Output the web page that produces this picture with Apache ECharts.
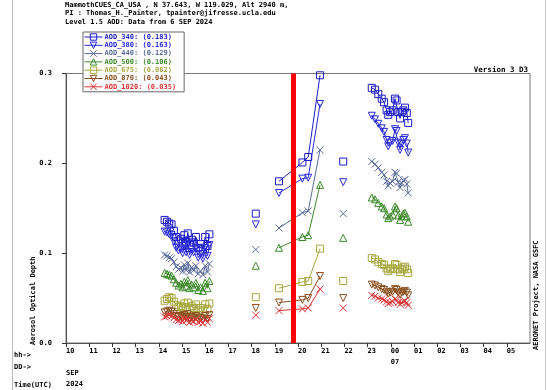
<!DOCTYPE html>
<html><head><meta charset="utf-8">
<script src="https://cdn.jsdelivr.net/npm/echarts@6/dist/echarts.min.js"></script>
<style>html,body{margin:0;padding:0;background:#fff}#c{width:547px;height:390px}</style>
</head><body><div id="c"></div>
<script>
// ---- Data (hours UTC since 6 SEP 2024 00:00) ----
const T_SEG1 = [14.25,14.35,14.45,14.55,14.65,14.75,14.85,14.95,15.03,15.10,15.18,15.25,15.33,15.42,15.50,15.60,15.70,15.80,15.90,16.00,16.10,16.18];
const T_SEG2 = [18.18];
const T_SEG3 = [19.18,20.19,20.44,20.95];
const T_SEG4 = [21.95];
const T_SEG5 = [23.18,23.32,23.46,23.61,23.71,23.82,23.89,23.97,24.08,24.18,24.25,24.32,24.40,24.47,24.54,24.61,24.69,24.75];
const SEGMENTS = [T_SEG1, T_SEG2, T_SEG3, T_SEG4, T_SEG5];

const AOD_340 = [0.137,0.135,0.133,0.132,0.125,0.118,0.114,0.116,0.111,0.120,0.113,0.122,0.109,0.115,0.112,0.118,0.106,0.110,0.104,0.118,0.108,0.121,
  0.144, 0.180,0.201,0.207,0.298, 0.202,
  0.284,0.282,0.277,0.272,0.268,0.259,0.254,0.257,0.259,0.272,0.270,0.257,0.250,0.257,0.259,0.262,0.256,0.245];
const AOD_380 = [0.124,0.123,0.121,0.120,0.113,0.106,0.103,0.105,0.100,0.108,0.101,0.110,0.098,0.104,0.101,0.106,0.095,0.099,0.094,0.106,0.097,0.109,
  0.132, 0.167,0.183,0.184,0.266, 0.179,
  0.253,0.249,0.244,0.239,0.235,0.226,0.219,0.223,0.225,0.238,0.236,0.223,0.215,0.222,0.226,0.228,0.222,0.212];
const AOD_440 = [0.098,0.097,0.095,0.094,0.090,0.085,0.082,0.084,0.080,0.087,0.081,0.089,0.079,0.084,0.081,0.086,0.077,0.080,0.076,0.086,0.079,0.088,
  0.104, 0.128,0.145,0.147,0.215, 0.144,
  0.202,0.199,0.195,0.190,0.187,0.180,0.175,0.178,0.180,0.190,0.189,0.179,0.173,0.178,0.181,0.182,0.177,0.167];
const AOD_500 = [0.078,0.077,0.076,0.075,0.071,0.067,0.064,0.066,0.062,0.068,0.063,0.070,0.061,0.065,0.062,0.067,0.059,0.062,0.058,0.067,0.061,0.069,
  0.086, 0.106,0.118,0.120,0.176, 0.117,
  0.162,0.160,0.156,0.152,0.150,0.143,0.139,0.141,0.143,0.152,0.150,0.142,0.137,0.141,0.144,0.145,0.141,0.135];
const AOD_675 = [0.047,0.049,0.051,0.050,0.046,0.042,0.040,0.041,0.039,0.044,0.040,0.045,0.038,0.041,0.039,0.043,0.037,0.039,0.036,0.043,0.038,0.044,
  0.051, 0.061,0.068,0.069,0.105, 0.069,
  0.0945,0.093,0.090,0.088,0.087,0.083,0.080,0.082,0.083,0.088,0.087,0.082,0.079,0.082,0.084,0.085,0.082,0.078];
const AOD_870 = [0.034,0.035,0.036,0.035,0.032,0.030,0.029,0.030,0.028,0.031,0.029,0.032,0.027,0.029,0.028,0.030,0.027,0.028,0.026,0.030,0.027,0.031,
  0.039, 0.045,0.048,0.050,0.0745, 0.050,
  0.065,0.064,0.062,0.060,0.059,0.057,0.055,0.056,0.057,0.060,0.059,0.056,0.054,0.056,0.057,0.058,0.056,0.053];
const AOD_1020 = [0.029,0.030,0.031,0.030,0.028,0.026,0.025,0.026,0.024,0.027,0.025,0.027,0.023,0.025,0.024,0.026,0.023,0.024,0.022,0.026,0.023,0.027,
  0.031, 0.036,0.038,0.039,0.060, 0.039,
  0.053,0.052,0.050,0.049,0.048,0.046,0.044,0.045,0.046,0.049,0.048,0.045,0.043,0.045,0.046,0.047,0.045,0.042];

const SERIES_NAMES = ['AOD_340: (0.183)','AOD_380: (0.163)','AOD_440: (0.129)','AOD_500: (0.106)','AOD_675: (0.082)','AOD_870: (0.043)','AOD_1020: (0.035)'];
const SERIES_VALUES = [AOD_340, AOD_380, AOD_440, AOD_500, AOD_675, AOD_870, AOD_1020];
const RED_LINE_TIME = 19.8;
const X_MIN = 10, X_MAX = 30, Y_MIN = 0, Y_MAX = 0.3;

// ---- Styles ----
const COLORS = ['#1c1cc8','#2828dc','#5a6a9c','#3c8a2a','#a8a840','#8a4e1e','#dc3434'];
const SYM_X = 'path://M0,0L10,10M10,0L0,10';
const SYM_DOWN = 'path://M0,0L10,0L5,10Z';
const SYMBOLS = ['rect', SYM_DOWN, SYM_X, 'triangle', 'rect', SYM_DOWN, SYM_X];
const FONT = '"DejaVu Sans Mono", monospace';

function build(vals){
  const out = []; let k = 0;
  SEGMENTS.forEach((seg, si) => {
    if (si > 0) out.push(['-','-']);
    seg.forEach(t => out.push([t, vals[k++]]));
  });
  return out;
}
function pad(n){ return (n < 10 ? '0' : '') + n; }

const series = SERIES_NAMES.map((name, i) => ({
  name, type: 'line', data: build(SERIES_VALUES[i]),
  symbol: SYMBOLS[i], symbolSize: 7,
  showAllSymbol: true, connectNulls: false, animation: false,
  lineStyle: { color: COLORS[i], width: 1 },
  itemStyle: { color: 'rgba(0,0,0,0)', borderColor: COLORS[i], borderWidth: 1 },
  emphasis: { disabled: true }, z: 2
}));
series.push({
  type: 'line', data: [], silent: true, animation: false, z: 5,
  markLine: { silent: true, symbol: ['none','none'], label: { show: false }, animation: false,
    lineStyle: { color: '#ff0000', width: 5, type: 'solid' },
    data: [{ xAxis: RED_LINE_TIME }] }
});

const chart = echarts.init(document.getElementById('c'), null, { renderer: 'canvas' });
const txt = (x, y, s, extra) => Object.assign({ type: 'text', x, y, style: Object.assign({ text: s, font: 'bold 7px ' + FONT, fill: '#000' }, extra || {}) });
chart.setOption({
  animation: false,
  backgroundColor: '#fff',
  grid: { left: 66, right: 17, top: 73.5, bottom: 36.5, show: true, borderColor: '#777', borderWidth: 1 },
  legend: {
    orient: 'vertical', left: 83, top: 32, itemGap: 0.3, itemWidth: 18, itemHeight: 8,
    padding: [1, 8, 1, 1], borderColor: '#666', borderWidth: 1, backgroundColor: '#fff',
    selectedMode: false,
    itemStyle: { borderWidth: 1, color: 'rgba(0,0,0,0)' },
    lineStyle: { width: 1 },
    data: SERIES_NAMES.map((n, i) => ({ name: n, textStyle: { color: COLORS[i] } })),
    textStyle: { fontFamily: FONT, fontSize: 7, fontWeight: 'bold', lineHeight: 8, padding: [0,0,0,-3] }
  },
  xAxis: {
    type: 'value', min: X_MIN, max: X_MAX, interval: 1,
    axisLine: { lineStyle: { color: '#555' } },
    axisTick: { show: true, length: 4, lineStyle: { color: '#333' } },
    splitLine: { show: false },
    axisLabel: {
      fontFamily: FONT, fontSize: 7, fontWeight: 'bold', color: '#000', align: 'left', margin: 3, lineHeight: 11,
      showMaxLabel: false,
      formatter: v => {
        if (v === X_MAX) return '';
        const h = pad(v % 24);
        if (v === X_MIN) return h + '\n\nSEP\n2024';
        if (v === 24) return h + '\n07';
        return h;
      }
    }
  },
  yAxis: {
    type: 'value', min: Y_MIN, max: Y_MAX, interval: 0.1,
    axisLine: { show: true, lineStyle: { color: '#555' } },
    axisTick: { show: true, length: 4, lineStyle: { color: '#333' } },
    splitLine: { show: false },
    axisLabel: { fontFamily: FONT, fontSize: 7, fontWeight: 'bold', color: '#000', margin: 14, formatter: v => v.toFixed(1) }
  },
  graphic: [
    { type: 'line', shape: { x1: 12.5, y1: 0, x2: 12.5, y2: 390 }, style: { stroke: '#bbb', lineWidth: 1 } },
    { type: 'line', shape: { x1: 545.5, y1: 0, x2: 545.5, y2: 390 }, style: { stroke: '#ccc', lineWidth: 1 } },
    txt(65, 1.5, 'MammothCUES_CA_USA , N 37.643, W 119.029, Alt 2940 m,'),
    txt(65, 10, 'PI : Thomas_H._Painter, tpainter@jifresse.ucla.edu'),
    txt(65, 18.5, 'Level 1.5 AOD: Data from 6 SEP 2024'),
    txt(528, 66, 'Version 3 D3', { align: 'right', font: 'bold 7.5px ' + FONT }),
    txt(14, 352, 'hh->'),
    txt(14, 364, 'DD->'),
    txt(14, 382, 'Time(UTC)'),
    { type: 'text', x: 37, y: 345, rotation: Math.PI / 2, style: { text: 'Aerosol Optical Depth', font: 'bold 7px ' + FONT, fill: '#000', align: 'left', verticalAlign: 'bottom' } },
    { type: 'text', x: 540, y: 350, rotation: Math.PI / 2, style: { text: 'AERONET Project, NASA GSFC', font: 'bold 7px ' + FONT, fill: '#000', align: 'left', verticalAlign: 'bottom' } }
  ],
  series
});
</script></body></html>
